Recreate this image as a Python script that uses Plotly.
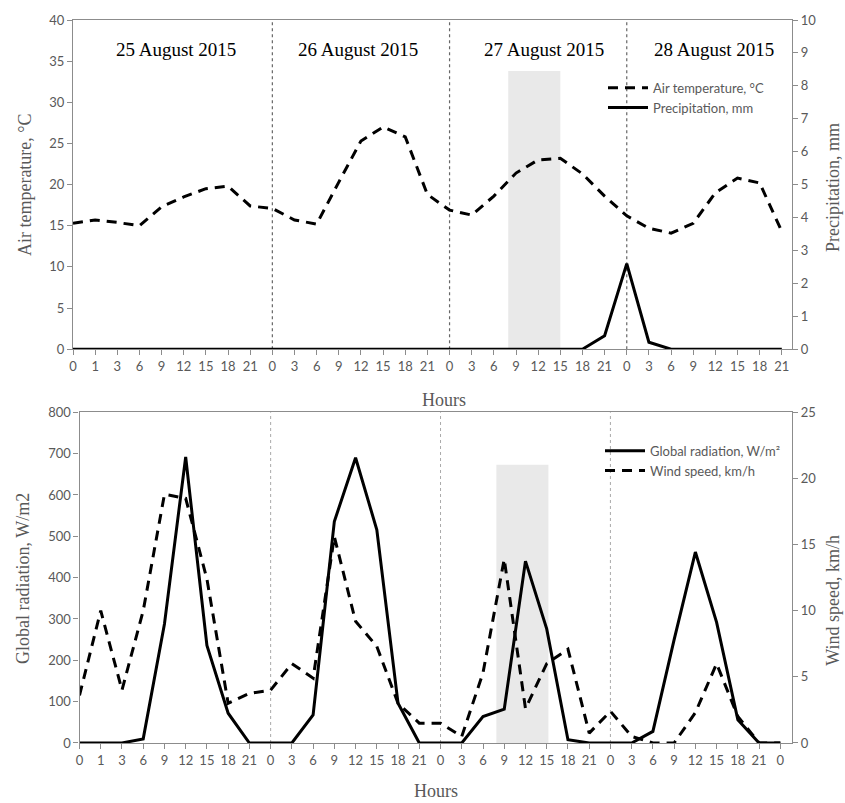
import plotly.graph_objects as go

# ---------------- data ----------------
top_hours = ["0", "1", "3", "6", "9", "12", "15", "18", "21",
             "0", "3", "6", "9", "12", "15", "18", "21",
             "0", "3", "6", "9", "12", "15", "18", "21",
             "0", "3", "6", "9", "12", "15", "18", "21"]
air_temp = [15.3, 15.7, 15.4, 15.0, 17.3, 18.5, 19.5, 19.8, 17.4,
            17.1, 15.7, 15.2, 20.3, 25.3, 27.0, 25.8, 18.8,
            16.9, 16.3, 18.6, 21.4, 23.0, 23.2, 21.3, 18.6,
            16.2, 14.7, 14.1, 15.3, 19.0, 20.8, 20.2, 14.3]
precip = [0, 0, 0, 0, 0, 0, 0, 0, 0,
          0, 0, 0, 0, 0, 0, 0, 0,
          0, 0, 0, 0, 0, 0, 0, 0.41,
          2.6, 0.21, 0, 0, 0, 0, 0, 0]

bot_hours = ["0", "1", "3", "6", "9", "12", "15", "18", "21",
             "0", "3", "6", "9", "12", "15", "18", "21",
             "0", "3", "6", "9", "12", "15", "18", "21",
             "0", "3", "6", "9", "12", "15", "18", "21", "0"]
radiation = [0, 0, 0, 10, 288, 692, 236, 72, 0,
             0, 0, 68, 536, 690, 516, 96, 0,
             0, 0, 64, 82, 440, 276, 8, 0,
             0, 0, 28, 250, 462, 292, 56, 0, 0]
wind = [3.6, 10.0, 4.0, 10.0, 18.8, 18.5, 12.4, 3.0, 3.75,
        4.0, 6.0, 4.9, 15.6, 9.2, 7.3, 3.0, 1.5,
        1.5, 0.5, 5.3, 13.9, 2.6, 6.0, 7.1, 0.75,
        2.4, 0.5, 0, 0, 2.3, 6.0, 2.0, 0, 0]

day_labels = ["25 August 2015", "26 August 2015", "27 August 2015", "28 August 2015"]

# ---------------- styling ----------------
GREY = "#595959"
AXIS = "#8c8c8c"
TICKF = dict(family="Lato, Carlito, sans-serif", size=13, color=GREY)
SERIF = "Liberation Serif, Times New Roman, serif"

W, H = 845, 803
ML, MR, MT, MB = 73, 53, 16, 60
PW, PH = W - ML - MR, H - MT - MB


def px_x(p):
    return (p - ML) / PW


def px_y(p):
    return (H - MB - p) / PH


top_x = list(range(len(top_hours)))
bot_x = list(range(len(bot_hours)))

fig = go.Figure()

fig.add_trace(go.Scatter(x=top_x, y=air_temp, mode="lines", name="Air temperature, °C",
                         line=dict(color="black", width=3, dash="10px,7px"),
                         xaxis="x", yaxis="y", legend="legend"))
fig.add_trace(go.Scatter(x=top_x, y=precip, mode="lines", name="Precipitation, mm",
                         line=dict(color="black", width=3),
                         xaxis="x", yaxis="y2", legend="legend"))
fig.add_trace(go.Scatter(x=bot_x, y=radiation, mode="lines", name="Global radiation, W/m²",
                         line=dict(color="black", width=3),
                         xaxis="x2", yaxis="y3", legend="legend2"))
fig.add_trace(go.Scatter(x=bot_x, y=wind, mode="lines", name="Wind speed, km/h",
                         line=dict(color="black", width=3, dash="10px,7px"),
                         xaxis="x2", yaxis="y4", legend="legend2"))

top_dom = [px_y(347), 1.0]
bot_dom = [0.0, px_y(410.5)]
bot_x0 = px_x(79.5)

common_y = dict(showgrid=False, zeroline=False, showline=True, linecolor=AXIS, linewidth=1.3,
                ticks="outside", ticklen=5, tickcolor=AXIS, tickfont=TICKF)

fig.update_layout(
    width=W, height=H, margin=dict(l=ML, r=MR, t=MT, b=MB),
    paper_bgcolor="white", plot_bgcolor="white", showlegend=True,
    xaxis=dict(domain=[0, 1], range=[0, 32.46], tickmode="array", tickvals=top_x, ticktext=top_hours,
               showgrid=False, zeroline=False, showline=True, linecolor=AXIS, linewidth=1.3, mirror=True,
               ticks="outside", ticklen=5, tickcolor=AXIS, tickfont=TICKF, anchor="y"),
    yaxis=dict(domain=top_dom, range=[0, 40], dtick=5, anchor="x", **common_y),
    yaxis2=dict(range=[0, 10], dtick=1, overlaying="y", side="right", anchor="x", **common_y),
    xaxis2=dict(domain=[bot_x0, 1], range=[0, 33.55], tickmode="array", tickvals=bot_x, ticktext=bot_hours,
                showgrid=False, zeroline=False, showline=True, linecolor=AXIS, linewidth=1.3, mirror=True,
                ticks="outside", ticklen=5, tickcolor=AXIS, tickfont=TICKF, anchor="y3"),
    yaxis3=dict(domain=bot_dom, range=[0, 800], dtick=100, anchor="x2", **common_y),
    yaxis4=dict(range=[0, 25], dtick=5, overlaying="y3", side="right", anchor="x2", **common_y),
    legend=dict(x=px_x(603), y=px_y(69), xanchor="left", yanchor="top", bgcolor="rgba(0,0,0,0)",
                font=dict(family="Lato, sans-serif", size=13, color=GREY), itemwidth=40,
                tracegroupgap=0),
    legend2=dict(x=px_x(600), y=px_y(434), xanchor="left", yanchor="top", bgcolor="rgba(0,0,0,0)",
                 font=dict(family="Lato, sans-serif", size=13, color=GREY), itemwidth=40,
                 tracegroupgap=0),
)

shapes = []
# day separators (where the hour labels restart at 0)
top_sep = [i for i, h in enumerate(top_hours) if h == "0" and i > 0]
bot_sep = [i for i, h in enumerate(bot_hours) if h == "0" and 0 < i < len(bot_hours) - 1]
# highlighted window on 27 August (about 08:00-15:00)
shapes.append(dict(type="rect", xref="x", yref="y", x0=19.65, x1=22.0, y0=0, y1=33.8,
                   fillcolor="#e9e9e9", line=dict(width=0), layer="below"))
shapes.append(dict(type="rect", xref="x2", yref="y3", x0=19.63, x1=22.08, y0=0, y1=673,
                   fillcolor="#e9e9e9", line=dict(width=0), layer="below"))
for s in top_sep:
    shapes.append(dict(type="line", xref="x", yref="y domain", x0=s, x1=s, y0=0, y1=1,
                       line=dict(color="#666666", width=1.2, dash="dot"), layer="below"))
for s in bot_sep:
    shapes.append(dict(type="line", xref="x2", yref="y3 domain", x0=s, x1=s, y0=0, y1=1,
                       line=dict(color="#aaaaaa", width=1, dash="dot"), layer="below"))
fig.update_layout(shapes=shapes)

ann = []
for lbl, cx in zip(day_labels, [176, 358, 544, 714]):
    ann.append(dict(text=lbl, x=px_x(cx), y=px_y(46), xref="paper", yref="paper", showarrow=False,
                    xanchor="center", yanchor="middle",
                    font=dict(family=SERIF, size=19, color="black")))
title_font = dict(family=SERIF, size=18, color=GREY)
ann += [
    dict(text="Air temperature, °C", x=px_x(25), y=px_y(182), textangle=-90),
    dict(text="Precipitation, mm", x=px_x(833), y=px_y(185), textangle=-90),
    dict(text="Hours", x=px_x(444), y=px_y(398)),
    dict(text="Global radiation, W/m2", x=px_x(23), y=px_y(578), textangle=-90),
    dict(text="Wind speed, km/h", x=px_x(833), y=px_y(600), textangle=-90),
    dict(text="Hours", x=px_x(436), y=px_y(791)),
]
for a in ann[4:]:
    a.update(xref="paper", yref="paper", showarrow=False, xanchor="center", yanchor="middle",
             font=title_font)
fig.update_layout(annotations=ann)

fig.write_html("out.html")
